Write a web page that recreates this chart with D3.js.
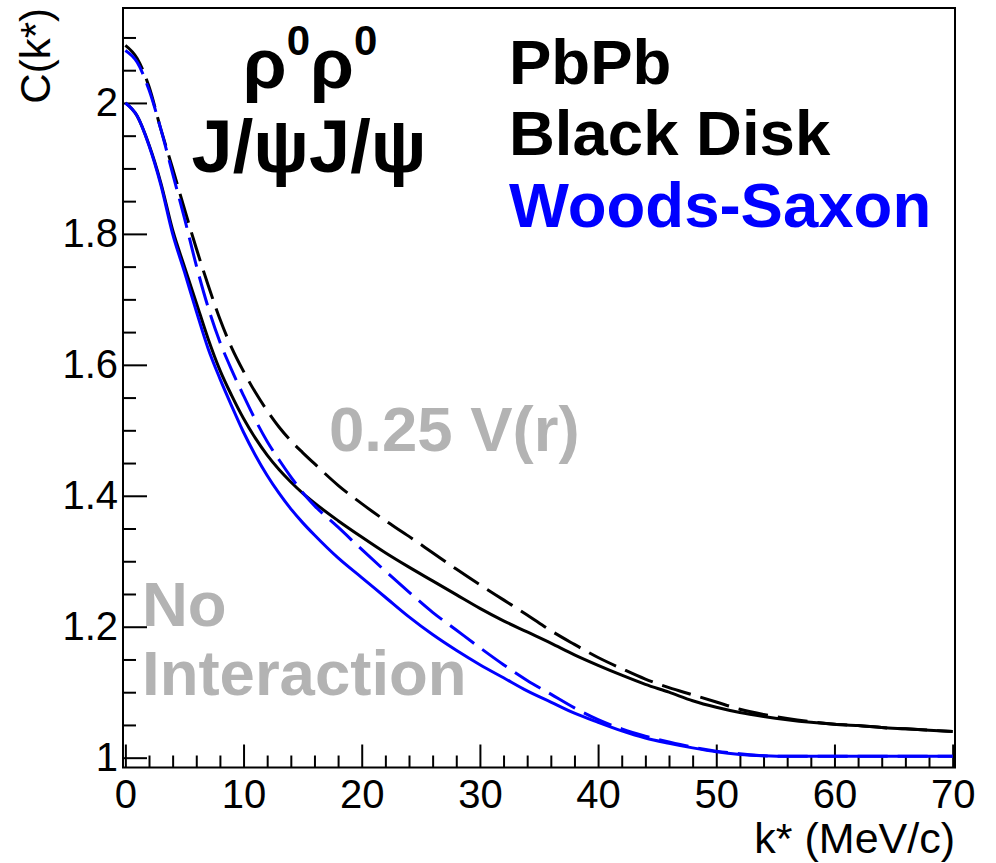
<!DOCTYPE html>
<html>
<head>
<meta charset="utf-8">
<script src="https://cdn.jsdelivr.net/npm/d3@7/dist/d3.min.js"></script>
<style>
body { margin: 0; background: #fff; }
svg text { font-family: "Liberation Sans", Arial, Helvetica, sans-serif; }
</style>
</head>
<body>
<div id="main"></div>
<script>
// k* grid (MeV/c) shared by all curves
var kStar = [0,1,2,3,4,5,6,7,8,9,10,11,12,13,14,15,16,18,20,22,24,26,28,30,32,34,36,38,40,42,44,46,48,50,52,54,56,58,60,62,64,66,68,70];

// Black Disk, no interaction (black solid)
var bdNoInt = [2.000,1.980,1.936,1.878,1.806,1.750,1.695,1.640,1.592,1.553,1.518,1.488,1.462,1.440,1.421,1.404,1.389,1.362,1.337,1.313,1.291,1.270,1.249,1.228,1.209,1.192,1.175,1.157,1.141,1.126,1.112,1.100,1.087,1.077,1.069,1.063,1.058,1.054,1.051,1.049,1.046,1.044,1.042,1.040];
// Black Disk, 0.25 V(r) (black dashed)
var bdPot = [2.088,2.068,2.025,1.960,1.900,1.838,1.778,1.722,1.670,1.626,1.590,1.558,1.530,1.505,1.484,1.466,1.449,1.416,1.388,1.362,1.338,1.313,1.288,1.264,1.241,1.218,1.194,1.173,1.153,1.136,1.120,1.107,1.096,1.085,1.074,1.066,1.060,1.055,1.051,1.049,1.046,1.044,1.042,1.040];
// Woods-Saxon, no interaction (blue solid)
var wsNoInt = [2.000,1.980,1.935,1.875,1.800,1.742,1.682,1.625,1.579,1.537,1.497,1.462,1.431,1.404,1.380,1.359,1.340,1.305,1.275,1.245,1.215,1.188,1.164,1.142,1.122,1.102,1.085,1.068,1.054,1.041,1.030,1.022,1.015,1.009,1.005,1.003,1.002,1.002,1.002,1.002,1.002,1.002,1.002,1.002];
// Woods-Saxon, 0.25 V(r) (blue dashed)
var wsPot = [2.080,2.062,2.020,1.960,1.892,1.824,1.752,1.688,1.635,1.592,1.553,1.516,1.483,1.455,1.429,1.405,1.385,1.352,1.318,1.285,1.253,1.222,1.195,1.168,1.142,1.118,1.097,1.076,1.058,1.044,1.033,1.024,1.016,1.010,1.006,1.003,1.002,1.002,1.002,1.002,1.002,1.002,1.002,1.002];

var xMajor = [0,10,20,30,40,50,60,70];
var yMajor = [1,1.2,1.4,1.6,1.8,2];
var yLabels = ["1","1.2","1.4","1.6","1.8","2"];

var ctx = {
    w: 996, h: 863,
    left: 123, right: 955, top: 8, bottom: 767.5,
    blue: "#0000ff", gray: "#b3b3b3"
};

var svg = d3.select("#main").append("svg")
    .attr("width", ctx.w).attr("height", ctx.h);

var xScale = d3.scaleLinear().domain([-0.2, 70.2]).range([ctx.left, ctx.right]);
var yScale = d3.scaleLinear().domain([0.985, 2.145]).range([ctx.bottom, ctx.top]);

// minor ticks
var xMinor = d3.range(0, 70.01, 2).filter(function(v){ return v % 10 !== 0; });
var yMinor = d3.range(1, 2.1401, 0.05).filter(function(v){ return Math.abs(v*5 - Math.round(v*5)) > 1e-6; });

var gx = svg.append("g").attr("transform", `translate(0,${ctx.bottom})`);
gx.call(d3.axisBottom(xScale).tickValues(xMajor).tickSizeInner(-23).tickSizeOuter(0).tickPadding(12));
gx.append("g").call(d3.axisBottom(xScale).tickValues(xMinor).tickSizeInner(-12).tickSizeOuter(0).tickFormat(""));

var gy = svg.append("g").attr("transform", `translate(${ctx.left},0)`);
gy.call(d3.axisLeft(yScale).tickValues(yMajor).tickSizeInner(-24).tickSizeOuter(0).tickPadding(5)
      .tickFormat(function(d, i){ return yLabels[i]; }));
gy.append("g").call(d3.axisLeft(yScale).tickValues(yMinor).tickSizeInner(-13).tickSizeOuter(0).tickFormat(""));

svg.selectAll(".domain").remove();
svg.selectAll(".tick line").attr("stroke", "#000").attr("stroke-width", 2);
svg.selectAll(".tick text").attr("font-size", 40).attr("fill", "#000")
   .style("font-family", "'Liberation Sans', Arial, sans-serif");

// frame
svg.append("rect")
    .attr("x", ctx.left).attr("y", ctx.top)
    .attr("width", ctx.right - ctx.left).attr("height", ctx.bottom - ctx.top)
    .attr("fill", "none").attr("stroke", "#000").attr("stroke-width", 2);

// curves
var line = d3.line()
    .x(function(d){ return xScale(d[0]); })
    .y(function(d){ return yScale(d[1]); })
    .curve(d3.curveMonotoneX);

var series = [
    {v: bdNoInt, color: "#000", dash: null},
    {v: bdPot, color: "#000", dash: "30,10"},
    {v: wsNoInt, color: ctx.blue, dash: null},
    {v: wsPot, color: ctx.blue, dash: "30,10"}
];
svg.append("g").selectAll("path")
    .data(series)
    .enter()
    .append("path")
    .attr("d", function(s){ return line(kStar.map(function(k, i){ return [k, s.v[i]]; })); })
    .attr("fill", "none")
    .attr("stroke", function(s){ return s.color; })
    .attr("stroke-width", 3)
    .attr("stroke-dasharray", function(s){ return s.dash; });

// axis titles
svg.append("text")
    .attr("x", ctx.right).attr("y", 853)
    .attr("text-anchor", "end").attr("font-size", 43)
    .text("k* (MeV/c)");
svg.append("text")
    .attr("transform", "translate(50,8) rotate(-90)")
    .attr("text-anchor", "end").attr("font-size", 42)
    .text("C(k*)");

// annotations
var rho = svg.append("text")
    .attr("x", 310).attr("y", 88)
    .attr("text-anchor", "middle").attr("font-size", 71).attr("font-weight", "bold");
rho.append("tspan").text("ρ");
rho.append("tspan").attr("font-size", 42).attr("dy", -33).text("0");
rho.append("tspan").attr("dy", 33).text("ρ");
rho.append("tspan").attr("font-size", 42).attr("dy", -33).text("0");

svg.append("text")
    .attr("x", 309).attr("y", 172)
    .attr("text-anchor", "middle").attr("font-size", 74).attr("font-weight", "bold")
    .text("J/ψJ/ψ");

var right = [
    {t: "PbPb", y: 84, c: "#000"},
    {t: "Black Disk", y: 155, c: "#000"},
    {t: "Woods-Saxon", y: 227, c: ctx.blue}
];
svg.selectAll(".lbl").data(right).enter().append("text")
    .attr("x", 509).attr("y", function(d){ return d.y; })
    .attr("font-size", 63.5).attr("font-weight", "bold")
    .attr("fill", function(d){ return d.c; })
    .text(function(d){ return d.t; });

var grayText = [
    {t: "0.25 V(r)", x: 329, y: 451},
    {t: "No", x: 142, y: 626},
    {t: "Interaction", x: 142, y: 695}
];
svg.selectAll(".glbl").data(grayText).enter().append("text")
    .attr("x", function(d){ return d.x; }).attr("y", function(d){ return d.y; })
    .attr("font-size", 63.5).attr("font-weight", "bold")
    .attr("fill", ctx.gray)
    .text(function(d){ return d.t; });
</script>
</body>
</html>
